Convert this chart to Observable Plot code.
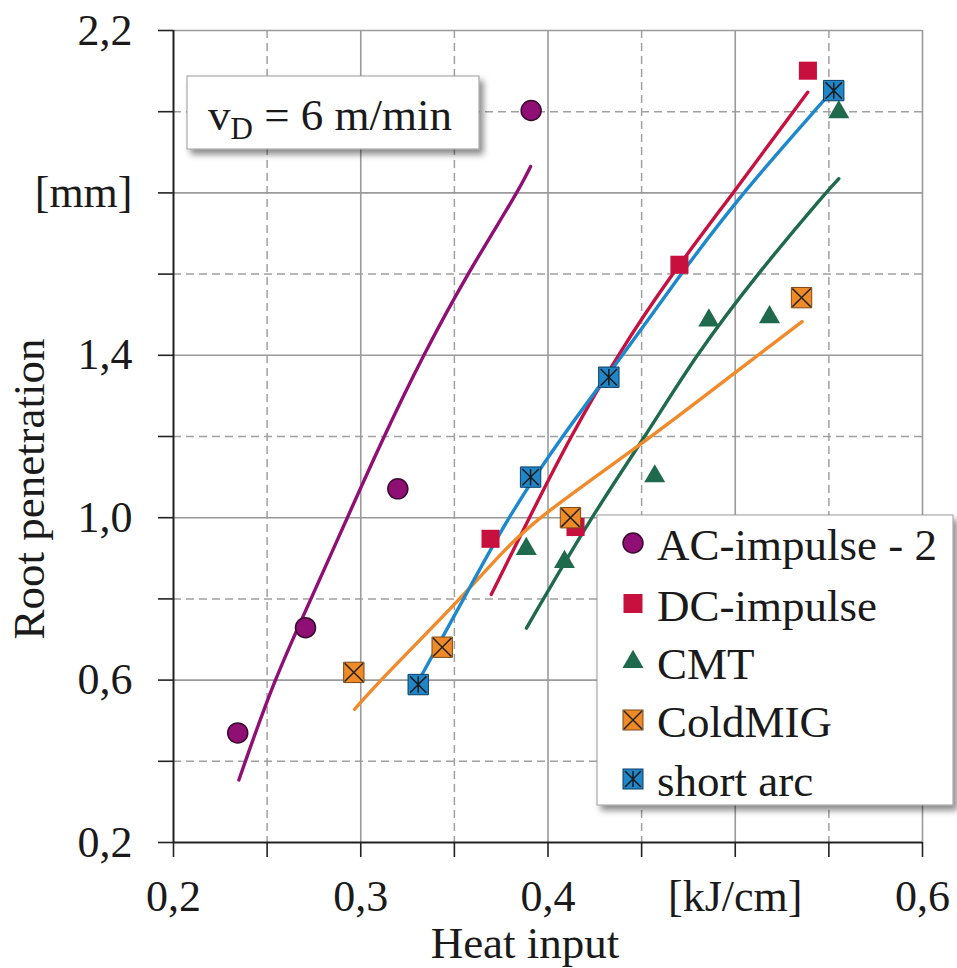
<!DOCTYPE html>
<html>
<head>
<meta charset="utf-8">
<script src="https://cdn.jsdelivr.net/npm/d3@7"></script>
<script src="https://cdn.jsdelivr.net/npm/@observablehq/plot@0.6"></script>
<style>
  html, body { margin: 0; padding: 0; background: #fff; }
  #chart { width: 957px; height: 968px; }
</style>
</head>
<body>
<div id="chart"></div>
<script>
// ---------- data ----------
const seriesNames = ["AC-impulse - 2", "DC-impulse", "CMT", "ColdMIG", "short arc"];
const seriesColors = ["#8F0F74", "#C8103F", "#1F6A4C", "#F08A2A", "#1E88CC"];

// measured points
const acX = [0.2343, 0.2705, 0.3198, 0.3910];
const acY = [0.470, 0.729, 1.071, 2.003];
const dcX = [0.3693, 0.4147, 0.4702, 0.5388];
const dcY = [0.948, 0.977, 1.623, 2.101];
const cmtX = [0.3884, 0.4088, 0.4570, 0.4859, 0.5183, 0.5553];
const cmtY = [0.923, 0.891, 1.102, 1.486, 1.494, 1.999];
const coldX = [0.2963, 0.3435, 0.4120, 0.5354];
const coldY = [0.619, 0.681, 1.000, 1.542];
const shortX = [0.3307, 0.3907, 0.4325, 0.5526];
const shortY = [0.589, 1.100, 1.346, 2.052];

// trend lines
const acFitX = [0.2349, 0.2536, 0.2735, 0.2928, 0.3123, 0.3333, 0.3568, 0.3836, 0.3907];
const acFitY = [0.354, 0.600, 0.800, 1.000, 1.200, 1.400, 1.600, 1.800, 1.865];
const dcFitX = [0.3697, 0.3900, 0.4120, 0.4370, 0.4660, 0.4990, 0.5387];
const dcFitY = [0.811, 1.000, 1.200, 1.400, 1.600, 1.800, 2.048];
const cmtFitX = [0.3885, 0.4227, 0.4520, 0.4788, 0.5117, 0.5482, 0.5553];
const cmtFitY = [0.728, 1.000, 1.200, 1.400, 1.600, 1.800, 1.835];
const coldFitX = [0.2967, 0.3105, 0.3533, 0.3746, 0.3942, 0.4558, 0.5000, 0.5357];
const coldFitY = [0.528, 0.600, 0.800, 0.911, 1.000, 1.200, 1.358, 1.483];
const shortFitX = [0.3319, 0.3550, 0.3784, 0.4072, 0.4400, 0.4708, 0.5037, 0.5491];
const shortFitY = [0.607, 0.800, 1.000, 1.200, 1.400, 1.600, 1.800, 2.037];

// axes
const xTickValues = [0.2, 0.25, 0.3, 0.35, 0.4, 0.45, 0.5, 0.55, 0.6];
const xLabelValues = [0.2, 0.3, 0.4, 0.5, 0.6];
const xLabelTexts = ["0,2", "0,3", "0,4", "[kJ/cm]", "0,6"];
const yTickValues = [0.2, 0.4, 0.6, 0.8, 1.0, 1.2, 1.4, 1.6, 1.8, 2.0, 2.2];
const yLabelValues = [0.2, 0.6, 1.0, 1.4, 1.8, 2.2];
const yLabelTexts = ["0,2", "0,6", "1,0", "1,4", "[mm]", "2,2"];
const xGridSolid = [0.3, 0.4, 0.5, 0.6];
const xGridDashed = [0.25, 0.35, 0.45, 0.55];
const yGridSolid = [0.6, 1.0, 1.4, 1.8, 2.2];
const yGridDashed = [0.4, 0.8, 1.2, 1.6, 2.0];

const xTitle = "Heat input";
const yTitle = "Root penetration";
const noteMain = "v";
const noteSub = "D";
const noteRest = " = 6 m/min";

// ---------- build tables ----------
function pts(name, xs, ys) { return xs.map((x, i) => ({series: name, x, y: ys[i]})); }
const fitData = [
  ...pts(seriesNames[0], acFitX, acFitY),
  ...pts(seriesNames[1], dcFitX, dcFitY),
  ...pts(seriesNames[2], cmtFitX, cmtFitY),
  ...pts(seriesNames[3], coldFitX, coldFitY),
  ...pts(seriesNames[4], shortFitX, shortFitY)
];
const acPts = pts(seriesNames[0], acX, acY);
const dcPts = pts(seriesNames[1], dcX, dcY);
const cmtPts = pts(seriesNames[2], cmtX, cmtY);
const coldPts = pts(seriesNames[3], coldX, coldY);
const shortPts = pts(seriesNames[4], shortX, shortY);

const colorOf = name => seriesColors[seriesNames.indexOf(name)];

const crossSymbol = {
  draw(ctx, size) {
    const h = Math.sqrt(size) / 2 - 1;
    ctx.moveTo(-h, -h); ctx.lineTo(h, h);
    ctx.moveTo(h, -h); ctx.lineTo(-h, h);
  }
};
const starSymbol = {
  draw(ctx, size) {
    const h = Math.sqrt(size) / 2 - 2;
    ctx.moveTo(-h, -h); ctx.lineTo(h, h);
    ctx.moveTo(h, -h); ctx.lineTo(-h, h);
    ctx.moveTo(0, -h); ctx.lineTo(0, h);
  }
};

const fmt = (vals, texts) => d => {
  const i = vals.findIndex(v => Math.abs(v - d) < 1e-9);
  return i >= 0 ? texts[i] : "";
};

const serif = "'Liberation Serif', 'Times New Roman', Times, serif";

const chart = Plot.plot({
  width: 957,
  height: 968,
  marginTop: 30,
  marginRight: 35,
  marginBottom: 126,
  marginLeft: 173,
  x: {domain: [0.2, 0.6], axis: null},
  y: {domain: [0.2, 2.2], axis: null},
  style: {fontFamily: serif, fontSize: "44px", color: "#1a1a1a", background: "white", overflow: "visible"},
  marks: [
    Plot.gridX(xGridDashed, {stroke: "#a0a0a0", strokeOpacity: 1, strokeWidth: 1.5, strokeDasharray: "8,5"}),
    Plot.gridY(yGridDashed, {stroke: "#a0a0a0", strokeOpacity: 1, strokeWidth: 1.5, strokeDasharray: "8,5"}),
    Plot.gridX(xGridSolid, {stroke: "#9a9a9a", strokeOpacity: 1, strokeWidth: 1.6}),
    Plot.gridY(yGridSolid, {stroke: "#9a9a9a", strokeOpacity: 1, strokeWidth: 1.6}),
    Plot.axisX(xTickValues, {tickSize: 15, tickPadding: 22, tickFormat: fmt(xLabelValues, xLabelTexts), stroke: "#222", strokeWidth: 1.6, fontSize: 44, label: null}),
    Plot.axisY(yTickValues, {tickSize: 15, tickPadding: 26, tickFormat: fmt(yLabelValues, yLabelTexts), stroke: "#222", strokeWidth: 1.6, fontSize: 44, label: null}),
    Plot.ruleX([0.2], {stroke: "#222", strokeWidth: 2}),
    Plot.ruleY([0.2], {stroke: "#222", strokeWidth: 2}),
    Plot.line(fitData, {x: "x", y: "y", z: "series", stroke: d => colorOf(d.series), strokeWidth: 3.4, curve: "basis"}),
    Plot.dot(acPts, {x: "x", y: "y", r: 10, symbol: "circle", fill: seriesColors[0], stroke: "#3a0a30", strokeWidth: 1.5}),
    Plot.dot(dcPts, {x: "x", y: "y", r: 10.2, symbol: "square", fill: seriesColors[1]}),
    Plot.dot(cmtPts, {x: "x", y: "y", r: 7.8, symbol: "triangle", fill: seriesColors[2]}),
    Plot.dot(coldPts, {x: "x", y: "y", r: 11.5, symbol: "square", fill: "#EF8A26", stroke: "#7a4a1a", strokeWidth: 1}),
    Plot.dot(coldPts, {x: "x", y: "y", r: 11.5, symbol: crossSymbol, stroke: "#222", strokeWidth: 1.5, fill: "none"}),
    Plot.dot(shortPts, {x: "x", y: "y", r: 11.5, symbol: "square", fill: "#1F86C8", stroke: "#0d3d66", strokeWidth: 1}),
    Plot.dot(shortPts, {x: "x", y: "y", r: 11.5, symbol: starSymbol, stroke: "#1a1a1a", strokeWidth: 1.5, fill: "none"})
  ]
});

document.getElementById("chart").appendChild(chart);

// ---------- decorations: titles, note box, legend ----------
const svg = d3.select(chart);
const defs = svg.append("defs");
const f = defs.append("filter").attr("id", "shadow").attr("x", "-10%").attr("y", "-10%").attr("width", "130%").attr("height", "140%");
f.append("feDropShadow").attr("dx", 4).attr("dy", 5).attr("stdDeviation", 3).attr("flood-color", "#000").attr("flood-opacity", 0.45);

svg.append("text")
  .attr("x", 525).attr("y", 958)
  .attr("text-anchor", "middle")
  .attr("font-size", 45).attr("font-family", serif).attr("fill", "#1a1a1a")
  .text(xTitle);

svg.append("text")
  .attr("transform", "translate(44,489) rotate(-90)")
  .attr("text-anchor", "middle")
  .attr("font-size", 45).attr("font-family", serif).attr("fill", "#1a1a1a")
  .text(yTitle);

// note box
const note = svg.append("g");
note.append("rect").attr("x", 187).attr("y", 76).attr("width", 292).attr("height", 73)
  .attr("fill", "white").attr("stroke", "#9a9a9a").attr("stroke-width", 1).attr("filter", "url(#shadow)");
const nt = note.append("text").attr("x", 208).attr("y", 130)
  .attr("text-anchor", "start")
  .attr("font-size", 45).attr("font-family", serif).attr("fill", "#1a1a1a");
nt.append("tspan").text(noteMain);
nt.append("tspan").attr("dy", 9).attr("font-size", 31).text(noteSub);
nt.append("tspan").attr("dy", -9).attr("font-size", 45).text(noteRest);

// legend
const lg = svg.append("g");
lg.append("rect").attr("x", 597).attr("y", 515).attr("width", 356).attr("height", 290)
  .attr("fill", "white").attr("stroke", "#9a9a9a").attr("stroke-width", 1).attr("filter", "url(#shadow)");
const rowY = [543, 603.5, 662, 720, 779];
const symX = 633;
seriesNames.forEach((name, i) => {
  const cy = rowY[i];
  const g = lg.append("g").attr("transform", `translate(${symX},${cy})`);
  if (i === 0) {
    g.append("circle").attr("r", 10).attr("fill", seriesColors[0]).attr("stroke", "#3a0a30").attr("stroke-width", 1.5);
  } else if (i === 1) {
    g.append("rect").attr("x", -9.5).attr("y", -9.5).attr("width", 19).attr("height", 19).attr("fill", seriesColors[1]);
  } else if (i === 2) {
    g.append("path").attr("d", d3.symbol(d3.symbolTriangle, Math.PI * 7.8 * 7.8)()).attr("fill", seriesColors[2]);
  } else if (i === 3) {
    g.append("rect").attr("x", -10).attr("y", -10).attr("width", 20).attr("height", 20).attr("fill", "#EF8A26").attr("stroke", "#7a4a1a").attr("stroke-width", 1);
    g.append("path").attr("d", "M-9,-9L9,9M9,-9L-9,9").attr("stroke", "#222").attr("stroke-width", 1.5);
  } else {
    g.append("rect").attr("x", -10).attr("y", -10).attr("width", 20).attr("height", 20).attr("fill", "#1F86C8").attr("stroke", "#0d3d66").attr("stroke-width", 1);
    g.append("path").attr("d", "M-8,-8L8,8M8,-8L-8,8M0,-8L0,8").attr("stroke", "#1a1a1a").attr("stroke-width", 1.5);
  }
  lg.append("text").attr("x", 657).attr("y", cy + 17)
    .attr("text-anchor", "start")
    .attr("font-size", 45).attr("font-family", serif).attr("fill", "#1a1a1a")
    .text(name);
});
</script>
</body>
</html>
